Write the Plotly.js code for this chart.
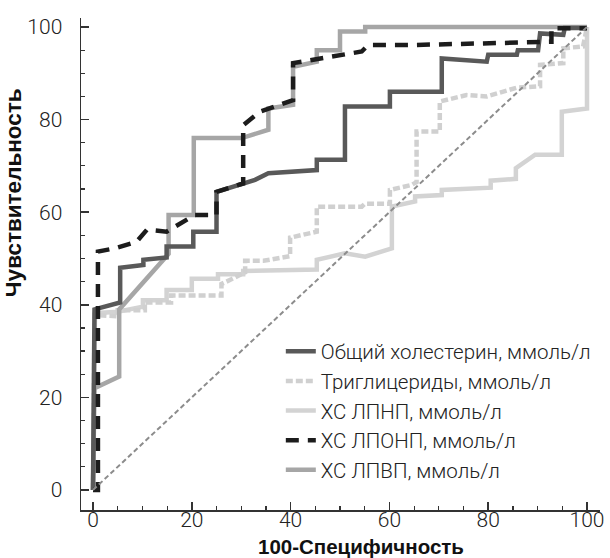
<!DOCTYPE html>
<html>
<head>
<meta charset="utf-8">
<script src="https://cdn.plot.ly/plotly-3.0.1.min.js"></script>
<style>html,body{margin:0;padding:0;background:#fff;}#chart{width:610px;height:558px;}</style>
</head>
<body>
<div id="chart"></div>
<script>
// ---- Data ----
const seriesNames = ["Общий холестерин, ммоль/л", "Триглицериды, ммоль/л", "ХС ЛПНП, ммоль/л", "ХС ЛПОНП, ммоль/л", "ХС ЛПВП, ммоль/л"];

// Общий холестерин
const tcX = [0, 0.3, 5.5, 5.5, 10.2, 10.2, 14.9, 14.9, 20.3, 20.3, 25, 25, 32.8, 35.5, 45.3, 45.3, 51, 51, 60.1, 60.1, 70.6, 70.6, 79.7, 80, 85.8, 86, 90.1, 90.5, 95.2, 95.5, 100];
const tcY = [0, 39, 40.5, 48, 48.6, 49.7, 50.2, 52.6, 52.6, 55.8, 55.8, 64.4, 67, 68.4, 69.1, 71.3, 71.3, 82.8, 82.8, 86, 86, 93.2, 92.5, 94, 94, 95, 95, 98.6, 98.3, 99.8, 99.8];

// Триглицериды
const tgX = [0, 0.3, 5, 5, 10.5, 10.5, 15.8, 15.8, 26, 26, 28, 30.8, 30.8, 34.5, 39.9, 39.9, 45.3, 45.3, 54.4, 55, 60.1, 60.1, 64.5, 65.5, 65.5, 70.2, 70.2, 75.6, 79.7, 85.8, 90.5, 90.5, 95.2, 95.2, 99.2, 100];
const tgY = [0, 37.8, 37.5, 38.8, 38.8, 40.5, 40.5, 42, 42, 44.5, 45.5, 47, 49.5, 49.5, 50.5, 54.5, 55.8, 61.2, 61.2, 61.8, 61.8, 64.8, 65.9, 66.5, 77.4, 77.4, 83.9, 85.3, 85, 86.9, 87.2, 91.8, 92.2, 95.4, 95.8, 100];

// ХС ЛПНП
const ldlX = [0, 0.4, 5, 10.1, 10.1, 14.9, 14.9, 20, 20, 25.3, 25.3, 30.4, 30.4, 39.5, 45.3, 45.3, 51, 55.1, 60.5, 60.5, 65.2, 65.2, 70.6, 70.6, 80.5, 80.5, 85.6, 85.6, 89.5, 94.9, 94.9, 100, 100];
const ldlY = [0, 38.2, 38.5, 39.6, 41, 41, 43.2, 43.2, 45.6, 45.6, 46.6, 46.6, 47.3, 47.6, 47.6, 49.7, 51.1, 50.4, 52.2, 61.2, 62.3, 63.4, 63.7, 64.8, 65.3, 66.8, 67.2, 69.5, 72.4, 72.4, 81.7, 82.4, 100];

// ХС ЛПОНП
const vldlX = [0, 1, 1, 4.5, 8.8, 10.9, 14.9, 20.6, 25, 25, 30.4, 30.4, 33.8, 38.9, 40.5, 40.5, 44.3, 50.7, 54.4, 55.7, 64.5, 92.8, 92.8, 100];
const vldlY = [0, 0, 51.5, 52.2, 53.6, 56.2, 55.8, 59.4, 59.4, 64.4, 66.2, 78.8, 81.7, 83.5, 84.2, 92.2, 92.9, 94, 94.7, 96.1, 96.1, 96.8, 99.7, 99.7];

// ХС ЛПВП
const hdlX = [0, 0.3, 5.3, 5.3, 15.3, 15.3, 20.4, 20.4, 30.1, 33.8, 35.5, 35.5, 40.5, 40.5, 45.3, 45.3, 50, 50, 55.1, 55.1, 100];
const hdlY = [0, 22, 24.5, 39, 51, 59.4, 59.4, 76, 76, 77.4, 77.8, 82.4, 83.2, 91.4, 92.5, 95, 95, 99, 99, 100, 100];

// Reference diagonal
const refX = [0, 100];
const refY = [0, 100];

const xTickVals = [0, 20, 40, 60, 80, 100];
const yTickVals = [0, 20, 40, 60, 80, 100];

const titleX = "100-Специфичность";
const titleY = "Чувствительность";

// ---- Traces ----
const W = 4.5;
const traces = [
  {x: ldlX, y: ldlY, name: seriesNames[2], legendrank: 3, mode: "lines",
   line: {color: "#d3d3d3", width: W}},
  {x: tgX, y: tgY, name: seriesNames[1], legendrank: 2, mode: "lines",
   line: {color: "#d0d0d0", width: W, dash: "7px,3px"}},
  {x: hdlX, y: hdlY, name: seriesNames[4], legendrank: 5, mode: "lines",
   line: {color: "#a6a6a6", width: W}},
  {x: tcX, y: tcY, name: seriesNames[0], legendrank: 1, mode: "lines",
   line: {color: "#595959", width: W}},
  {x: vldlX, y: vldlY, name: seriesNames[3], legendrank: 4, mode: "lines",
   line: {color: "#1c1c1c", width: W, dash: "13px,9px"}},
  {x: refX, y: refY, showlegend: false, mode: "lines", hoverinfo: "skip",
   line: {color: "#8c8c8c", width: 2, dash: "5px,3px"}}
];

const tickFont = {family: "Roboto, 'Liberation Sans', sans-serif", size: 21, color: "#222", weight: 300};
const axisCommon = {
  showline: true, linecolor: "#333", linewidth: 1.5,
  showgrid: false, zeroline: false,
  ticks: "inside", ticklen: 8, tickwidth: 1.5, tickcolor: "#333",
  tickfont: tickFont,
  minor: {ticks: "inside", dtick: 5, ticklen: 4, tickwidth: 1.2, tickcolor: "#333", showgrid: false},
  fixedrange: true, automargin: false
};

const layout = {
  width: 610, height: 558,
  margin: {l: 81, r: 10, t: 18, b: 48, pad: 0, autoexpand: false},
  paper_bgcolor: "#fff", plot_bgcolor: "#fff",
  showlegend: true,
  xaxis: Object.assign({}, axisCommon, {
    range: [-2.43, 102.63], tickvals: xTickVals, ticktext: xTickVals.map(String), ticklabelstandoff: -10
  }),
  yaxis: Object.assign({}, axisCommon, {
    range: [-4.32, 101.94], tickvals: yTickVals, ticktext: yTickVals.map(String), ticklabelstandoff: 13
  }),
  legend: {
    x: 0.385, y: 0.363, xanchor: "left", yanchor: "top",
    bgcolor: "rgba(0,0,0,0)", borderwidth: 0,
    font: {family: "Roboto, 'Liberation Sans', sans-serif", size: 20.5, color: "#222", weight: 300},
    tracegroupgap: 0, itemclick: false, itemdoubleclick: false
  },
  annotations: [
    {text: titleX, xref: "paper", yref: "paper", x: 0.54, y: -0.075, xanchor: "center", yanchor: "middle",
     showarrow: false, font: {family: "'Liberation Sans', Arial, sans-serif", size: 20.5, color: "#111", weight: 700}},
    {text: titleY, xref: "paper", yref: "paper", x: -0.13, y: 0.645, xanchor: "center", yanchor: "middle",
     textangle: -90, showarrow: false, font: {family: "'Liberation Sans', Arial, sans-serif", size: 22.5, color: "#111", weight: 700}}
  ]
};

Plotly.newPlot("chart", traces, layout, {displayModeBar: false, staticPlot: true});
</script>
</body>
</html>
